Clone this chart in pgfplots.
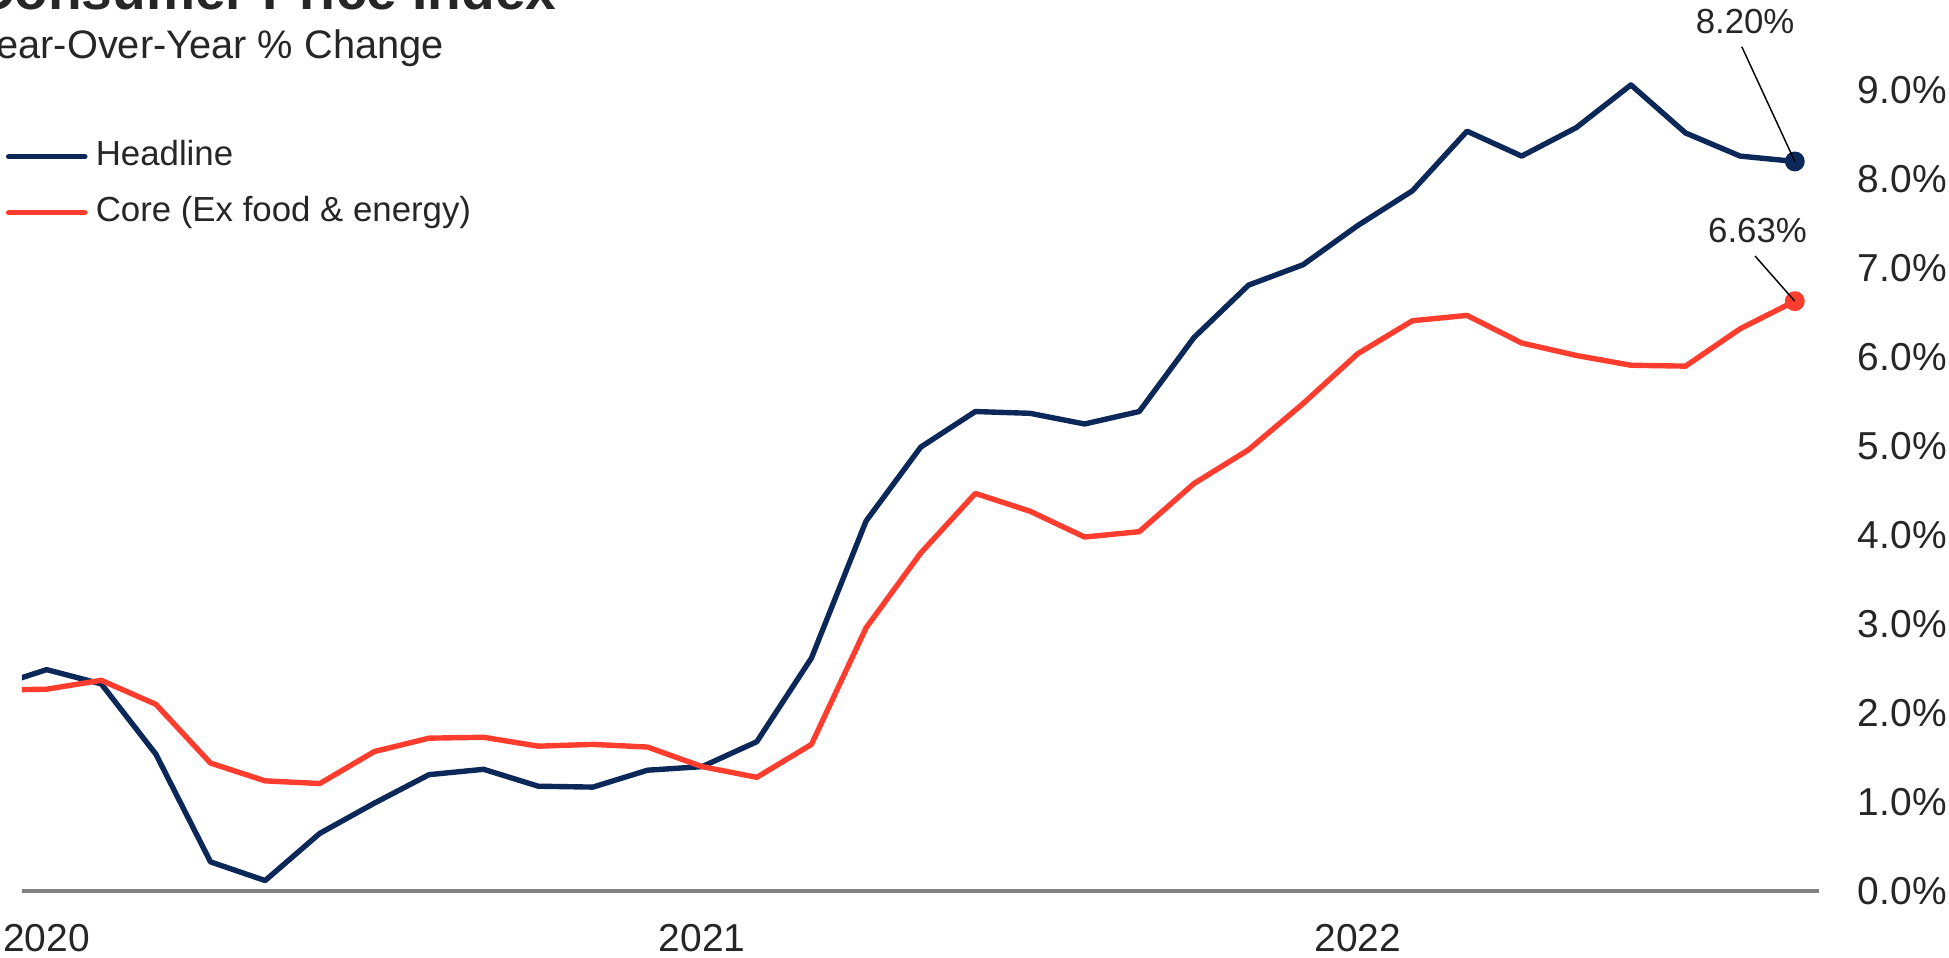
\documentclass[border=0pt]{standalone}
\usepackage{fontspec}
\setmainfont{Liberation Sans}
\usepackage{pgfplots}
\pgfplotsset{compat=1.18}
\usepackage{pgfplotstable}

\definecolor{cpinavy}{HTML}{0B2859}
\definecolor{cpired}{HTML}{FF3D2E}
\definecolor{axisgray}{HTML}{808080}
\definecolor{txt}{HTML}{262626}

% CPI, year-over-year % change; month 0 = Jan 2020
\pgfplotstableread{
month headline core
-1  2.29 2.26
0   2.49 2.27
1   2.33 2.37
2   1.54 2.10
3   0.33 1.44
4   0.12 1.24
5   0.65 1.21
6   0.99 1.57
7   1.31 1.72
8   1.37 1.73
9   1.18 1.63
10  1.17 1.65
11  1.36 1.62
12  1.40 1.40
13  1.68 1.28
14  2.62 1.65
15  4.16 2.96
16  4.99 3.80
17  5.39 4.47
18  5.37 4.27
19  5.25 3.98
20  5.39 4.04
21  6.22 4.58
22  6.81 4.96
23  7.04 5.48
24  7.48 6.04
25  7.87 6.41
26  8.54 6.47
27  8.26 6.16
28  8.58 6.02
29  9.06 5.91
30  8.52 5.90
31  8.26 6.32
32  8.20 6.63
}\cpidata

\begin{document}
\begin{tikzpicture}
\useasboundingbox (0,0) rectangle (470.4pt,231pt);
\clip (0,0) rectangle (470.4pt,231pt);
\node[anchor=base west, inner sep=0pt, text=txt,
      font=\fontsize{13.3}{16}\selectfont\bfseries] at (-6.3pt,228.75pt) {Consumer Price Index};
\node[anchor=base west, inner sep=0pt, text=txt,
      font=\fontsize{9.6}{11}\selectfont] at (-6.6pt,216.9pt) {Year-Over-Year \% Change};
\begin{axis}[
  at={(5.25pt,15.9pt)}, anchor=south west,
  scale only axis, width=433.86pt, height=214.8pt,
  xmin=-0.455, xmax=32.45, ymin=0, ymax=10,
  axis x line*=bottom, axis y line*=right,
  x axis line style={axisgray, line width=1pt, -},
  y axis line style={draw=none},
  major tick length=0pt,
  xtick={0,12,24}, xticklabels={2020,2021,2022},
  ytick={0,1,2,3,4,5,6,7,8,9},
  yticklabels={0.0\%,1.0\%,2.0\%,3.0\%,4.0\%,5.0\%,6.0\%,7.0\%,8.0\%,9.0\%},
  ticklabel style={font=\fontsize{9.4}{11}\selectfont, text=txt},
  xticklabel style={anchor=north, inner sep=0pt, yshift=-7.8pt},
  yticklabel style={anchor=west, inner sep=0pt, xshift=9.1pt},
  clip mode=individual,
  legend style={at={(axis description cs:-0.0088,0.845)}, anchor=north west,
    draw=none, fill=none, inner sep=0pt, outer sep=0pt, row sep=5pt,
    font=\fontsize{8.4}{10}\selectfont, text=txt,
    nodes={inner sep=0pt, text height=6.3pt, text depth=2.2pt},
    /tikz/every odd column/.append style={column sep=2pt}},
  legend image code/.code={\draw[#1, line cap=round] (0.65pt,0pt) -- (19.05pt,0pt);},
  legend cell align=left,
  every axis plot/.append style={line join=round},
]
\addplot[cpinavy, line width=1.3pt] table[x=month, y=headline] {\cpidata};
\addplot[cpired, line width=1.3pt] table[x=month, y=core] {\cpidata};
\legend{Headline, Core (Ex food \& energy)}
% latest readings
\addplot[forget plot, only marks, mark=*, mark size=2.2pt, cpinavy] coordinates {(32,8.20)};
\addplot[forget plot, only marks, mark=*, mark size=2.2pt, cpired] coordinates {(32,6.63)};
\draw[black, line width=0.35pt] (axis cs:32,8.20) -- ++(-12.8pt,27.7pt)
  node[anchor=base, inner sep=0pt, xshift=0.8pt, yshift=3.3pt, text=txt,
       font=\fontsize{8.4}{10}\selectfont] {8.20\%};
\draw[black, line width=0.35pt] (axis cs:32,6.63) -- ++(-9.6pt,10.9pt)
  node[anchor=base, inner sep=0pt, xshift=0.6pt, yshift=3.15pt, text=txt,
       font=\fontsize{8.4}{10}\selectfont] {6.63\%};
\end{axis}
\end{tikzpicture}
\end{document}
